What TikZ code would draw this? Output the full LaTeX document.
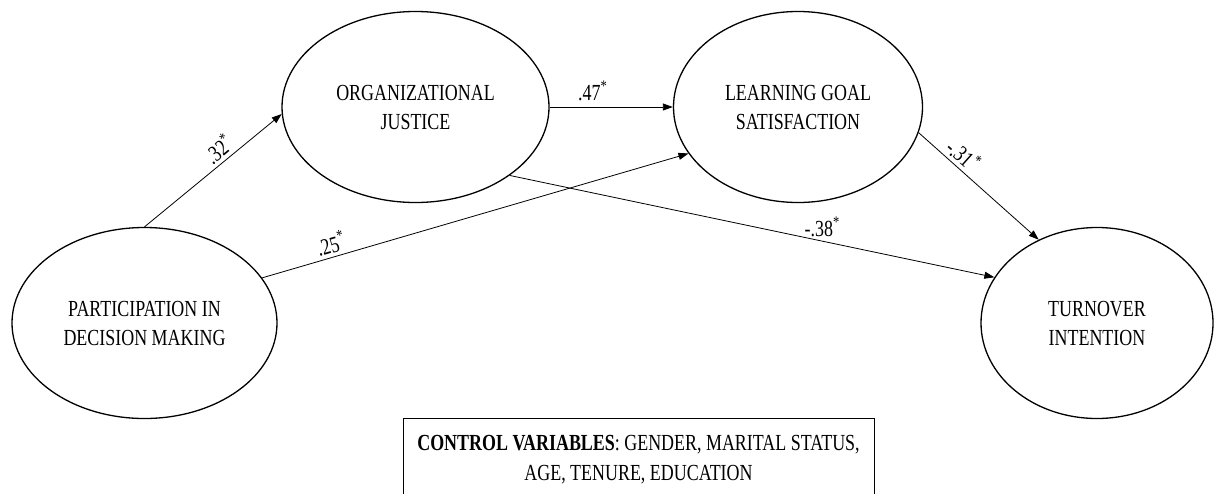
\documentclass[tikz,border=0pt]{standalone}
\usepackage{fontspec}
\setmainfont{Liberation Serif}[FakeStretch=0.78]
\usetikzlibrary{arrows.meta,shapes.geometric}

\begin{document}
\begin{tikzpicture}[x=1pt,y=-1pt,>={Triangle[length=10pt,width=7pt]},
  every node/.style={font=\fontsize{23}{29}\selectfont},
  every text node part/.style={align=center},
  var/.style={ellipse,draw,line width=1.3pt,inner sep=0pt,minimum height=191pt},
  link/.style={->,line width=0.8pt}]
  \useasboundingbox (0,0) rectangle (1214,493);
  \clip (0,0) rectangle (1214,493);
  \node[var,minimum width=265pt] (pdm) at (144.5,323) {PARTICIPATION IN \\ DECISION MAKING};
  \node[var,minimum width=267pt] (oj)  at (415.5,107) {ORGANIZATIONAL \\ JUSTICE};
  \node[var,minimum width=249pt] (lgs) at (798,107)   {LEARNING GOAL \\ SATISFACTION};
  \node[var,minimum width=232pt] (ti)  at (1097,323)  {TURNOVER \\ INTENTION};
  \node[draw,line width=1pt,anchor=north,minimum width=471pt,inner ysep=17pt,
        font=\fontsize{23}{30}\selectfont] (ctrl) at (638.5,418)
        {\textbf{CONTROL VARIABLES}: GENDER, MARITAL STATUS, \\ AGE, TENURE, EDUCATION};
  \path[link] (pdm.north) edge node[pos=0.6,sloped,above] {.32\textsuperscript{*}} (oj.183);
  \path[link] (pdm.21) edge node[pos=0.17,sloped,above] {.25\textsuperscript{*}} (lgs.203);
  \path[link] (oj.east) edge node[pos=0.35,above=2pt] {.47\textsuperscript{*}} (lgs.west);
  \path[link] (oj.-36) edge node[pos=0.645,above=1pt] {-.38\textsuperscript{*}} (ti.156);
  \path[link] (lgs.-12) edge node[pos=0.3,sloped,above] {-.31\textsuperscript{*}} (ti.125);
\end{tikzpicture}
\end{document}
